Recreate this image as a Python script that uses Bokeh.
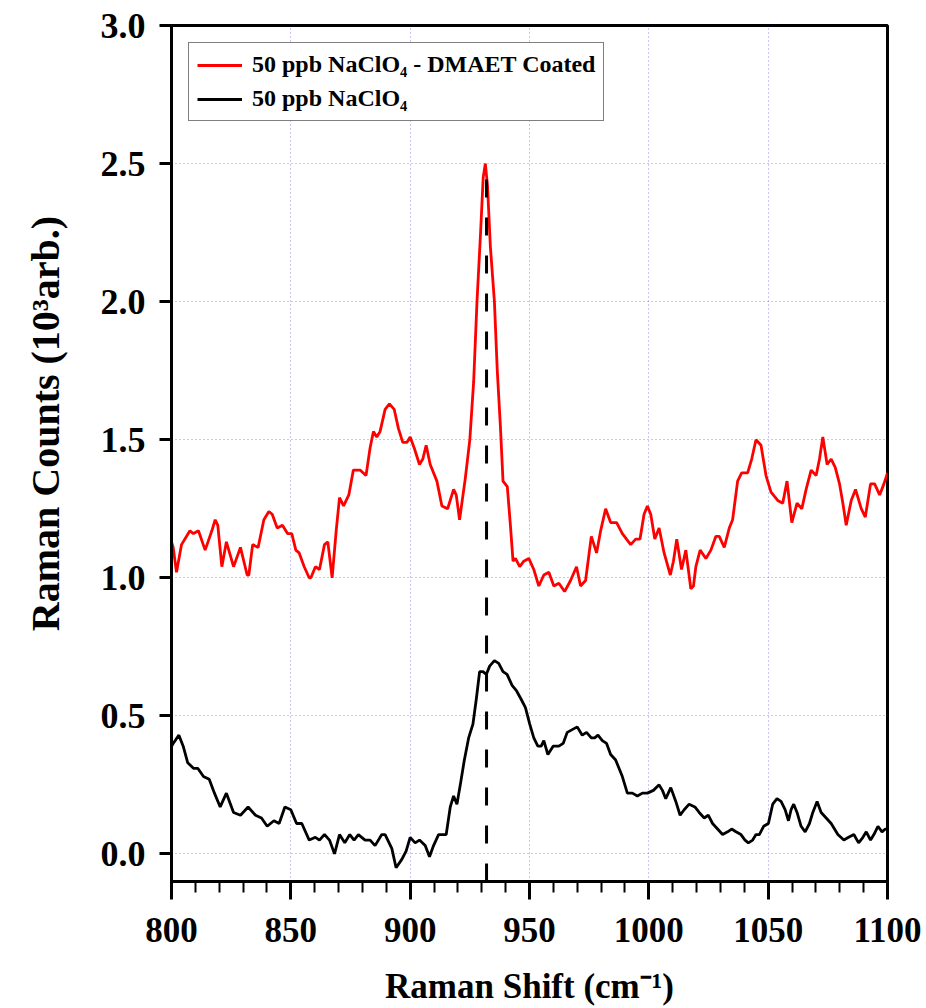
from bokeh.plotting import figure
from bokeh.models import SingleIntervalTicker, Legend, LegendItem, PrintfTickFormatter
from bokeh.embed import file_html
from bokeh.resources import INLINE

# Raman shift (cm^-1) and counts (10^3 arb.) for the coated substrate
coated_shift = [800.0, 800.7, 802.1, 804.2, 807.7, 809.2, 811.3, 814.1, 816.9, 818.3, 819.4, 821.1, 823.0,
                826.0, 828.9, 831.7, 832.4, 834.0, 836.3, 838.7, 840.8, 842.2, 844.3, 846.5, 848.6, 850.4,
                852.1, 853.5, 855.6, 857.7, 858.4, 860.3, 862.0, 864.1, 865.5, 867.3, 869.0, 870.4, 872.1,
                874.3, 876.2, 879.0, 881.5, 883.2, 884.6, 886.0, 887.4, 889.5, 891.3, 893.3, 895.1, 896.9,
                898.6, 900.0, 901.7, 903.9, 905.3, 906.7, 908.4, 911.2, 913.3, 915.7, 918.2, 919.3, 920.7,
                923.1, 925.0, 926.6, 928.0, 929.5, 930.6, 931.5, 932.4, 933.6, 935.3, 936.5, 937.8, 938.9,
                940.7, 942.0, 943.1, 944.1, 945.9, 947.6, 949.7, 951.8, 953.9, 956.0, 958.1, 960.2, 962.3,
                964.7, 967.2, 969.7, 971.4, 973.5, 975.9, 978.1, 979.8, 981.9, 984.0, 986.5, 988.9, 992.4,
                994.5, 996.3, 998.0, 999.4, 1000.8, 1002.5, 1004.3, 1006.4, 1009.0, 1010.3, 1011.7, 1013.7,
                1015.5, 1017.6, 1018.7, 1019.7, 1021.5, 1023.9, 1026.0, 1028.1, 1029.5, 1031.6, 1033.7,
                1035.1, 1037.2, 1038.9, 1041.4, 1043.1, 1044.9, 1047.0, 1049.1, 1051.2, 1054.0, 1056.1,
                1057.9, 1059.9, 1062.1, 1064.1, 1065.9, 1068.0, 1070.1, 1071.5, 1072.9, 1074.7, 1076.4,
                1078.1, 1079.9, 1081.3, 1082.7, 1084.8, 1086.6, 1089.0, 1090.7, 1092.9, 1094.6, 1096.7,
                1098.5, 1100.0]
coated_counts = [1.13, 1.11, 1.02, 1.12, 1.17, 1.16, 1.17, 1.10, 1.17, 1.21, 1.19, 1.04, 1.13,
                 1.04, 1.11, 1.01, 1.01, 1.12, 1.11, 1.21, 1.24, 1.23, 1.18, 1.19, 1.16, 1.16,
                 1.10, 1.09, 1.04, 1.00, 1.00, 1.04, 1.03, 1.12, 1.13, 1.00, 1.17, 1.29, 1.26,
                 1.30, 1.39, 1.39, 1.37, 1.47, 1.53, 1.51, 1.53, 1.61, 1.63, 1.61, 1.54, 1.49,
                 1.49, 1.51, 1.47, 1.41, 1.43, 1.48, 1.41, 1.35, 1.26, 1.25, 1.32, 1.30, 1.21,
                 1.36, 1.50, 1.71, 2.00, 2.25, 2.45, 2.50, 2.42, 2.20, 2.00, 1.75, 1.55, 1.35,
                 1.33, 1.19, 1.06, 1.07, 1.04, 1.06, 1.07, 1.03, 0.97, 1.01, 1.02, 0.97, 0.98,
                 0.95, 0.99, 1.04, 0.97, 0.99, 1.15, 1.09, 1.17, 1.25, 1.20, 1.20, 1.16, 1.12,
                 1.14, 1.14, 1.23, 1.26, 1.23, 1.14, 1.18, 1.09, 1.01, 1.06, 1.14, 1.03,
                 1.10, 0.96, 0.97, 1.04, 1.10, 1.07, 1.10, 1.15, 1.15, 1.11, 1.18,
                 1.21, 1.35, 1.38, 1.38, 1.43, 1.50, 1.48, 1.37, 1.31, 1.28, 1.27,
                 1.35, 1.20, 1.27, 1.25, 1.32, 1.39, 1.37, 1.43, 1.51, 1.41, 1.43,
                 1.40, 1.34, 1.27, 1.19, 1.28, 1.32, 1.25, 1.22, 1.34, 1.34, 1.30,
                 1.34, 1.38]

# Raman shift (cm^-1) and counts (10^3 arb.) for the bare substrate
bare_shift = [800.0, 800.7, 803.1, 804.9, 806.8, 809.2, 811.0, 813.4, 815.8, 818.0, 820.4, 823.0, 826.0,
              828.9, 832.1, 835.2, 837.7, 840.1, 842.9, 845.1, 847.5, 850.0, 852.4, 854.6, 857.7, 860.3,
              862.0, 864.1, 866.2, 868.3, 870.4, 872.6, 874.7, 876.5, 878.3, 881.1, 883.2, 885.3, 888.1,
              889.5, 892.3, 894.1, 896.5, 898.3, 900.0, 902.1, 903.9, 906.3, 908.1, 909.8, 911.9, 913.3,
              915.1, 916.8, 918.2, 919.6, 921.0, 922.7, 924.5, 926.3, 927.7, 929.1, 930.5, 931.9, 933.3,
              935.3, 937.1, 938.9, 940.6, 942.7, 944.6, 946.5, 948.3, 950.1, 951.8, 953.5, 954.9, 956.0,
              957.7, 959.9, 962.3, 964.1, 965.8, 967.9, 970.0, 972.1, 973.9, 975.9, 977.3, 978.7, 980.5,
              982.3, 984.0, 986.1, 987.5, 988.9, 991.0, 993.1, 995.2, 997.3, 999.4, 1001.9, 1004.3,
              1005.7, 1007.1, 1009.2, 1011.3, 1013.1, 1014.8, 1016.9, 1019.3, 1021.1, 1023.2, 1024.9,
              1026.7, 1028.8, 1030.9, 1033.0, 1034.7, 1036.5, 1038.6, 1040.3, 1041.7, 1043.5, 1044.9,
              1046.3, 1048.1, 1050.1, 1051.9, 1053.7, 1055.4, 1057.1, 1058.5, 1059.6, 1060.7, 1062.1,
              1063.8, 1065.5, 1067.3, 1068.7, 1070.5, 1072.2, 1074.3, 1076.4, 1079.2, 1081.7, 1083.7,
              1085.9, 1087.9, 1089.7, 1091.1, 1092.9, 1094.3, 1096.0, 1097.7, 1099.1, 1100.0]
bare_counts = [0.39, 0.40, 0.43, 0.39, 0.33, 0.31, 0.31, 0.28, 0.27, 0.22, 0.17, 0.22, 0.15,
               0.14, 0.17, 0.14, 0.13, 0.10, 0.12, 0.11, 0.17, 0.16, 0.11, 0.11, 0.05, 0.06,
               0.05, 0.07, 0.05, 0.00, 0.07, 0.04, 0.07, 0.05, 0.07, 0.05, 0.05, 0.03, 0.07,
               0.07, 0.02, -0.05, -0.02, 0.01, 0.06, 0.04, 0.05, 0.03, -0.01, 0.03, 0.07, 0.07,
               0.07, 0.17, 0.21, 0.18, 0.25, 0.34, 0.42, 0.47, 0.56, 0.66, 0.66, 0.65, 0.68,
               0.70, 0.69, 0.66, 0.65, 0.61, 0.59, 0.56, 0.53, 0.47, 0.42, 0.39, 0.39, 0.41,
               0.36, 0.39, 0.39, 0.40, 0.44, 0.45, 0.46, 0.43, 0.44, 0.42, 0.42, 0.43, 0.41,
               0.40, 0.36, 0.34, 0.31, 0.28, 0.22, 0.22, 0.21, 0.22, 0.22, 0.23, 0.25,
               0.23, 0.20, 0.24, 0.19, 0.14, 0.16, 0.18, 0.17, 0.15, 0.13, 0.14,
               0.11, 0.09, 0.07, 0.08, 0.09, 0.08, 0.07, 0.05, 0.04, 0.05, 0.07,
               0.07, 0.10, 0.11, 0.18, 0.20, 0.19, 0.16, 0.12, 0.16, 0.18, 0.15,
               0.10, 0.08, 0.11, 0.15, 0.19, 0.15, 0.13, 0.11, 0.07, 0.05, 0.06,
               0.07, 0.04, 0.06, 0.08, 0.05, 0.07, 0.10, 0.08, 0.09, 0.09]

# Perchlorate band position marker
band_shift = [932, 932]
band_counts = [-0.1, 2.46]

x_limits = (800, 1100)
y_limits = (-0.1, 3.0)

series_labels = ["50 ppb NaClO\u2084 - DMAET Coated", "50 ppb NaClO\u2084"]

SERIF = "Liberation Serif"

p = figure(width=926, height=1008, x_range=x_limits, y_range=y_limits,
           output_backend="svg", toolbar_location=None,
           min_border_left=171, min_border_right=39, min_border_top=25, min_border_bottom=127)
p.background_fill_color = "white"
p.border_fill_color = "white"
p.outline_line_color = "black"
p.outline_line_width = 3

black_r = p.line(bare_shift, bare_counts, line_color="black", line_width=2.8)
red_r = p.line(coated_shift, coated_counts, line_color="#ff0000", line_width=2.8)
p.line(band_shift, band_counts, line_color="black", line_width=3, line_dash="18 20")

# axes
p.xaxis.ticker = SingleIntervalTicker(interval=50, num_minor_ticks=5)
p.yaxis.ticker = SingleIntervalTicker(interval=0.5, num_minor_ticks=0)
p.yaxis.formatter = PrintfTickFormatter(format="%.1f")

for ax in (p.xaxis[0], p.yaxis[0]):
    ax.axis_line_width = 3
    ax.axis_line_color = "black"
    ax.major_tick_line_width = 3
    ax.minor_tick_line_width = 2
    ax.major_tick_in = 0
    ax.minor_tick_in = 0
    ax.major_label_text_font = SERIF
    ax.major_label_text_font_style = "bold"
    ax.major_label_text_color = "black"
    ax.axis_label_text_font = SERIF
    ax.axis_label_text_font_style = "bold"
    ax.axis_label_text_color = "black"

p.xaxis.major_tick_out = 18
p.xaxis.minor_tick_out = 11
p.xaxis.major_label_text_font_size = "35px"
p.xaxis.major_label_standoff = 18
p.xaxis.axis_label = "Raman Shift (cm\u207b\u00b9)"
p.xaxis.axis_label_text_font_size = "35px"
p.xaxis.axis_label_standoff = 22

p.yaxis.major_tick_out = 12
p.yaxis.minor_tick_out = 0
p.yaxis.major_label_text_font_size = "36px"
p.yaxis.major_label_standoff = 14
# leading no-break spaces lift the centred title towards the top of the axis
p.yaxis.axis_label = "\u00a0" * 6 + "Raman Counts (10\u00b3arb.)"
p.yaxis.axis_label_text_font_size = "40px"
p.yaxis.axis_label_standoff = 30

# dotted grid
for g in (p.xgrid[0], p.ygrid[0]):
    g.grid_line_color = "#7070f0"
    g.grid_line_alpha = 0.8
    g.grid_line_width = 1
    g.grid_line_dash = "1 3"

legend = Legend(items=[LegendItem(label=series_labels[0], renderers=[red_r]),
                       LegendItem(label=series_labels[1], renderers=[black_r])],
                location="top_left", margin=17, padding=8, spacing=7,
                glyph_width=45, glyph_height=24, label_height=24, label_standoff=10,
                label_text_font=SERIF, label_text_font_style="bold",
                label_text_font_size="24px", label_text_color="black",
                border_line_color="black", border_line_width=1.5,
                background_fill_color="white", background_fill_alpha=1.0)
p.add_layout(legend, "center")

open("out.html", "w").write(file_html(p, INLINE))
